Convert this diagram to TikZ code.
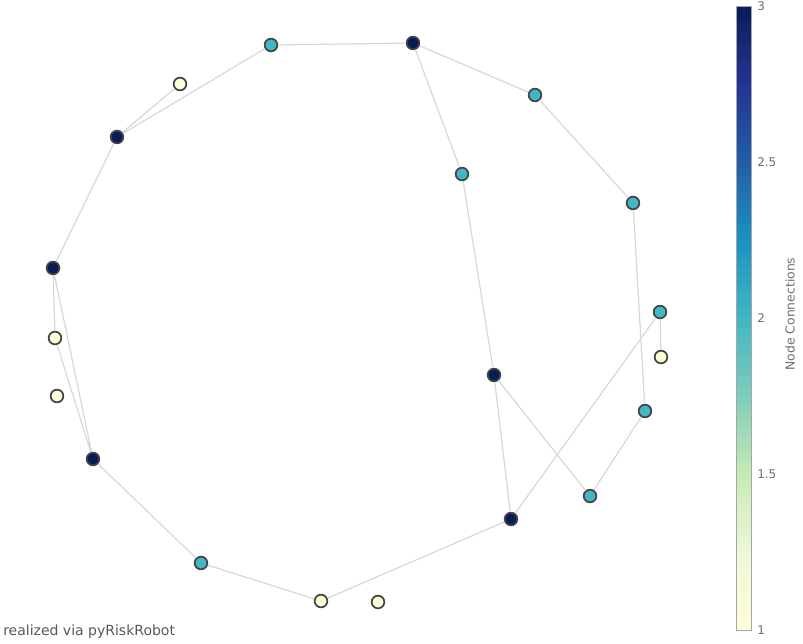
\documentclass[tikz,border=0pt]{standalone}
\usepackage{fontspec}
\setmainfont{DejaVu Sans}

\definecolor{deg3}{RGB}{8,29,88}
\definecolor{deg2}{RGB}{65,182,196}
\definecolor{deg1}{RGB}{255,255,217}
\definecolor{edgegray}{RGB}{215,215,215}
\definecolor{rimgray}{RGB}{68,68,68}
\definecolor{labelgray}{RGB}{110,110,110}

% YlGnBu scale, bottom (1) to top (3)
\definecolor{yb0}{RGB}{255,255,217}
\definecolor{yb1}{RGB}{237,248,217}
\definecolor{yb2}{RGB}{199,233,180}
\definecolor{yb3}{RGB}{127,205,187}
\definecolor{yb4}{RGB}{65,182,196}
\definecolor{yb5}{RGB}{29,145,192}
\definecolor{yb6}{RGB}{34,94,168}
\definecolor{yb7}{RGB}{37,52,148}
\definecolor{yb8}{RGB}{8,29,88}
\pgfdeclareverticalshading{ylgnbu}{100bp}{color(0bp)=(yb0); color(25bp)=(yb0);
  color(31.25bp)=(yb1); color(37.5bp)=(yb2); color(43.75bp)=(yb3);
  color(50bp)=(yb4); color(56.25bp)=(yb5); color(62.5bp)=(yb6);
  color(68.75bp)=(yb7); color(75bp)=(yb8); color(100bp)=(yb8)}

\begin{document}
\begin{tikzpicture}[x=0.75pt,y=-0.75pt,
  vertex/.style={circle, draw=rimgray, line width=1.3pt, minimum size=9.5pt, inner sep=0pt},
  link/.style={draw=edgegray, line width=0.9pt},
  ticklabel/.style={anchor=west, inner sep=0pt, text=labelgray, font=\fontsize{9}{11}\selectfont}]
\useasboundingbox (0,0) rectangle (803,643);

% nodes, coloured by number of connections
\node[vertex, fill=deg2] (a) at (271,45) {};
\node[vertex, fill=deg3] (b) at (413,43) {};
\node[vertex, fill=deg1] (c) at (180,84) {};
\node[vertex, fill=deg2] (d) at (535,95) {};
\node[vertex, fill=deg3] (e) at (117,137) {};
\node[vertex, fill=deg2] (f) at (462,174) {};
\node[vertex, fill=deg2] (g) at (633,203) {};
\node[vertex, fill=deg3] (h) at (53,268) {};
\node[vertex, fill=deg2] (i) at (660,312) {};
\node[vertex, fill=deg1] (j) at (55,338) {};
\node[vertex, fill=deg1] (k) at (661,357) {};
\node[vertex, fill=deg1] (l) at (57,396) {};
\node[vertex, fill=deg3] (m) at (494,375) {};
\node[vertex, fill=deg2] (n) at (645,411) {};
\node[vertex, fill=deg3] (o) at (93,459) {};
\node[vertex, fill=deg2] (p) at (590,496) {};
\node[vertex, fill=deg3] (q) at (511,519) {};
\node[vertex, fill=deg2] (r) at (201,563) {};
\node[vertex, fill=deg1] (s) at (321,601) {};
\node[vertex, fill=deg1] (t) at (378,602) {};

% edges
\path[link] (e) -- (a) (e) -- (c) (a) -- (b) (b) -- (d) (b) -- (f);
\path[link] (d) -- (g) (g) -- (n) (n) -- (p) (p) -- (m) (m) -- (f);
\path[link] (m) -- (q) (q) -- (i) (i) -- (k) (q) -- (s) (r) -- (s);
\path[link] (e) -- (h) (h) -- (j) (h) -- (o) (j) -- (o) (o) -- (r);

% colour bar
\shade[shading=ylgnbu] (736,6) rectangle (751,630);
\draw[draw=gray!70, line width=0.6pt] (736,6) rectangle (751,630);
\node[ticklabel] (t3) at (757,6) {3};
\node[ticklabel] (t25) at (757,162) {2.5};
\node[ticklabel] (t2) at (757,318) {2};
\node[ticklabel] (t15) at (757,474) {1.5};
\node[ticklabel] (t1) at (757,630) {1};
\node[rotate=90, text=labelgray, font=\fontsize{9.3}{11}\selectfont] (cbtitle) at (790,314) {Node Connections};

\node[anchor=west, inner sep=0pt, text=labelgray!80!black, font=\fontsize{10.5}{12}\selectfont] (credit) at (3,632) {realized via pyRiskRobot};
\end{tikzpicture}
\end{document}
